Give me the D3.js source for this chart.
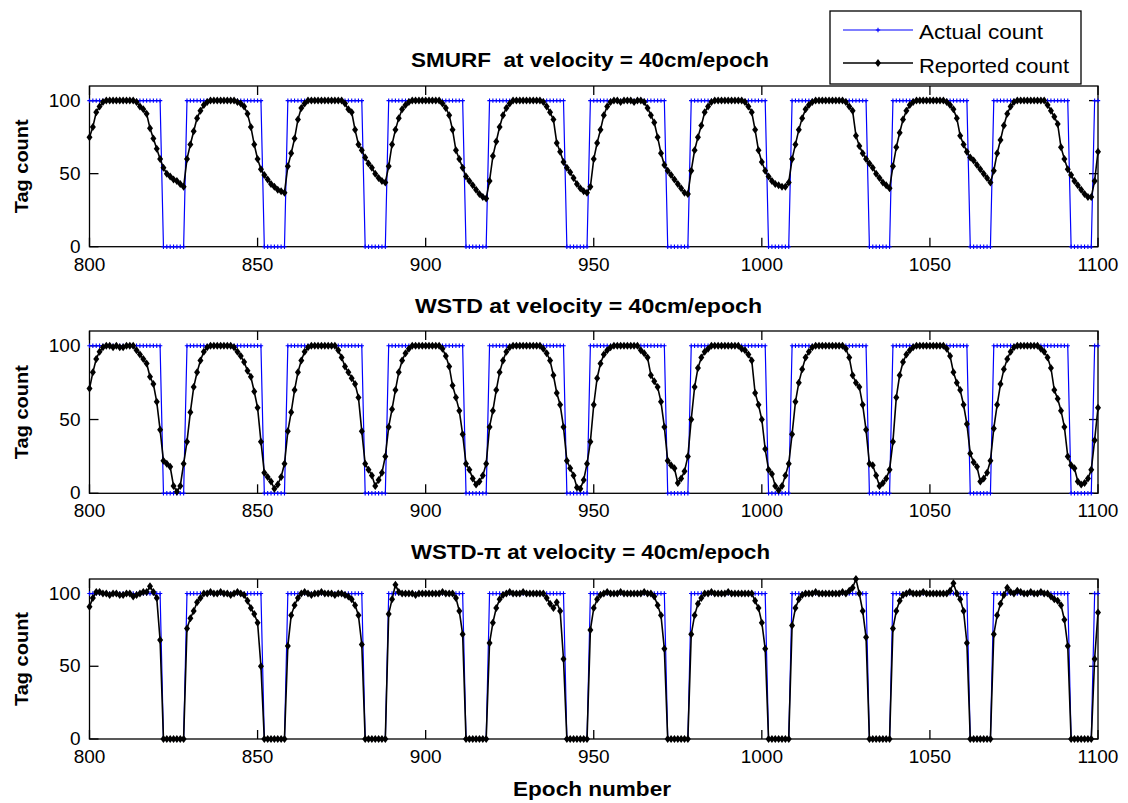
<!DOCTYPE html>
<html><head><meta charset="utf-8">
<script src="https://cdn.jsdelivr.net/npm/d3@7"></script>
<style>body{margin:0;background:#fff} text{font-family:"Liberation Sans",Arial,sans-serif;fill:#000}</style>
</head><body><svg id="c" width="1128" height="803"></svg>
<script>
const epochs = d3.range(800, 1101);
const actualCount = [
100,100,100,100,100,100,100,100,100,100,100,100,100,100,100,100,100,100,100,100,100,100,0,0,0,0,0,0,0,100,
100,100,100,100,100,100,100,100,100,100,100,100,100,100,100,100,100,100,100,100,100,100,0,0,0,0,0,0,0,100,
100,100,100,100,100,100,100,100,100,100,100,100,100,100,100,100,100,100,100,100,100,100,0,0,0,0,0,0,0,100,
100,100,100,100,100,100,100,100,100,100,100,100,100,100,100,100,100,100,100,100,100,100,0,0,0,0,0,0,0,100,
100,100,100,100,100,100,100,100,100,100,100,100,100,100,100,100,100,100,100,100,100,100,0,0,0,0,0,0,0,100,
100,100,100,100,100,100,100,100,100,100,100,100,100,100,100,100,100,100,100,100,100,100,0,0,0,0,0,0,0,100,
100,100,100,100,100,100,100,100,100,100,100,100,100,100,100,100,100,100,100,100,100,100,0,0,0,0,0,0,0,100,
100,100,100,100,100,100,100,100,100,100,100,100,100,100,100,100,100,100,100,100,100,100,0,0,0,0,0,0,0,100,
100,100,100,100,100,100,100,100,100,100,100,100,100,100,100,100,100,100,100,100,100,100,0,0,0,0,0,0,0,100,
100,100,100,100,100,100,100,100,100,100,100,100,100,100,100,100,100,100,100,100,100,100,0,0,0,0,0,0,0,100,
100];
const smurfReported = [
75,82,92,96,99,100,100,100,100,100,100,100,100,100,99,96,94,91,81,74,67,60,54,50,48,46,45,43,41,60,
70,79,88,93,97,99,100,100,100,100,100,100,100,100,99,98,96,91,82,70,60,53,49,46,43,41,39,38,37,55,
64,74,87,95,98,100,100,100,100,100,100,100,100,100,100,100,98,94,92,80,70,66,61,57,54,50,47,45,44,55,
70,80,88,94,97,99,100,100,100,100,100,100,100,100,100,98,95,90,80,66,60,54,48,45,42,39,36,34,33,45,
62,72,82,90,95,98,100,100,100,100,100,100,100,100,100,99,96,92,87,71,65,58,54,51,47,43,40,38,37,41,
60,71,80,90,96,99,100,100,99,100,100,100,99,100,100,99,95,90,85,75,64,56,52,49,46,43,40,37,36,52,
66,75,83,92,96,99,100,100,100,100,100,100,100,100,100,99,96,92,80,66,58,52,48,45,43,42,41,41,44,60,
70,80,88,94,97,99,100,100,100,100,100,100,100,100,100,99,96,93,76,69,64,60,57,54,50,47,44,42,40,55,
68,78,87,93,97,99,100,100,100,100,100,100,100,100,100,99,97,94,88,76,70,65,61,59,56,53,50,47,44,52,
64,73,83,91,96,99,100,100,100,100,100,100,100,100,100,97,93,89,84,68,60,53,49,45,42,39,36,34,34,45,
65];
const wstdReported = [
71,82,91,96,99,100,100,99,100,99,99,100,100,100,97,94,91,88,79,74,62,43,22,20,18,5,1,5,20,35,
55,72,82,90,96,99,100,100,100,100,100,100,100,99,96,93,89,83,79,69,58,35,14,11,8,3,6,11,20,42,
55,70,82,90,96,99,100,100,100,100,100,100,100,100,97,92,86,82,78,74,65,42,20,16,12,5,9,14,25,45,
57,70,82,90,95,98,100,100,100,100,100,100,100,100,100,98,93,86,73,65,56,40,20,16,10,6,8,12,20,45,
56,70,82,90,96,99,100,100,100,100,100,100,100,100,100,98,95,90,80,68,60,45,22,17,12,4,3,9,20,35,
60,78,88,94,97,99,100,100,100,100,100,100,100,100,97,95,92,80,76,72,62,45,22,19,17,7,10,15,25,50,
72,85,92,96,98,100,100,100,100,100,100,100,100,100,98,97,94,90,68,60,50,30,16,13,5,2,5,12,20,40,
62,75,84,92,96,99,100,100,100,100,100,100,100,100,100,98,92,80,75,72,60,43,20,19,12,5,7,10,16,35,
65,80,89,94,97,99,100,100,100,100,100,100,100,100,100,98,93,82,75,70,60,47,27,21,18,8,10,14,22,44,
60,74,84,91,96,99,100,100,100,100,100,100,100,98,96,92,85,70,64,56,45,25,19,17,8,6,7,10,16,36,
58];
const wstdPiReported = [
91,97,101,101,100,100,99,100,100,99,99,100,100,98,99,100,101,101,105,101,97,68,0,0,0,0,0,0,0,76,
83,88,94,97,100,100,101,100,100,101,100,100,99,100,101,100,99,95,90,86,80,50,0,0,0,0,0,0,0,64,
85,92,97,100,101,100,99,100,100,101,100,100,100,99,100,100,99,98,96,92,85,65,0,0,0,0,0,0,0,86,
96,106,101,100,100,100,100,99,100,100,100,100,100,100,100,101,100,100,100,97,88,72,0,0,0,0,0,0,0,66,
80,90,96,99,100,101,100,100,100,101,100,100,100,100,100,100,97,93,90,94,88,55,0,0,0,0,0,0,0,75,
90,96,99,100,101,100,100,100,101,100,100,100,100,100,100,101,100,100,98,92,85,62,0,0,0,0,0,0,0,72,
85,93,97,100,100,101,100,100,100,100,101,100,100,100,100,100,100,100,95,90,80,62,0,0,0,0,0,0,0,78,
90,96,99,100,100,100,101,100,100,100,100,100,100,100,101,100,102,104,110,100,88,70,0,0,0,0,0,0,0,76,
88,95,99,100,101,100,100,100,101,100,100,100,100,100,100,100,102,107,100,96,88,66,0,0,0,0,0,0,0,72,
85,93,99,104,101,100,102,101,100,100,101,100,100,101,100,100,98,96,95,92,82,64,0,0,0,0,0,0,0,55,
87];
const xTicks = [800, 850, 900, 950, 1000, 1050, 1100];
const yTicks = [0, 50, 100];
const panelTitles = ["SMURF  at velocity = 40cm/epoch", "WSTD at velocity = 40cm/epoch", "WSTD-\u03c0 at velocity = 40cm/epoch"];
const legendLabels = ["Actual count", "Reported count"];
const xLabel = "Epoch number";
const yLabel = "Tag count";

const svg = d3.select("#c");
const left = 89.5, right = 1098;
const layout = [
  {top: 86, bottom: 246.7, titleY: 67, titleX: 411, titleW: 358},
  {top: 331, bottom: 493.3, titleY: 313, titleX: 415, titleW: 347},
  {top: 579, bottom: 739, titleY: 559, titleX: 411, titleW: 359}
];
const series = [smurfReported, wstdReported, wstdPiReported];
const x = d3.scaleLinear().domain([800, 1100]).range([left, right]);

layout.forEach((L, i) => {
  const y = d3.scaleLinear().domain([0, 110]).range([L.bottom, L.top]);
  const g = svg.append("g");
  g.append("rect").attr("x", left).attr("y", L.top).attr("width", right - left).attr("height", L.bottom - L.top)
    .attr("fill", "#fff").attr("stroke", "#000").attr("stroke-width", 1.3);
  const tl = 9;
  xTicks.forEach(t => {
    g.append("line").attr("x1", x(t)).attr("x2", x(t)).attr("y1", L.bottom).attr("y2", L.bottom - tl).attr("stroke", "#000").attr("stroke-width", 1.3);
    g.append("line").attr("x1", x(t)).attr("x2", x(t)).attr("y1", L.top).attr("y2", L.top + tl).attr("stroke", "#000").attr("stroke-width", 1.3);
    g.append("text").attr("x", x(t)).attr("y", L.bottom + 24).attr("text-anchor", "middle").attr("font-size", 19).text(t);
  });
  yTicks.forEach(t => {
    g.append("line").attr("x1", left).attr("x2", left + tl).attr("y1", y(t)).attr("y2", y(t)).attr("stroke", "#000").attr("stroke-width", 1.3);
    g.append("line").attr("x1", right).attr("x2", right - tl).attr("y1", y(t)).attr("y2", y(t)).attr("stroke", "#000").attr("stroke-width", 1.3);
    g.append("text").attr("x", left - 9).attr("y", y(t) + 6).attr("text-anchor", "end").attr("font-size", 19).text(t);
  });
  const line = d3.line().x((d, j) => x(epochs[j])).y(d => y(d));
  g.append("path").datum(actualCount).attr("d", line).attr("fill", "none").attr("stroke", "#0000ff").attr("stroke-width", 1.2);
  g.append("path").attr("d", actualCount.map((d, j) => `M${x(epochs[j]) - 2.2},${y(d)}h4.4M${x(epochs[j])},${y(d) - 2.2}v4.4`).join(""))
    .attr("stroke", "#0000ff").attr("stroke-width", 1.1).attr("fill", "none");
  g.append("path").datum(series[i]).attr("d", line).attr("fill", "none").attr("stroke", "#000").attr("stroke-width", 1.6);
  g.selectAll(null).data(series[i]).enter().append("path")
    .attr("d", (d, j) => `M${x(epochs[j])},${y(d) - 4}l3,4l-3,4l-3,-4z`).attr("fill", "#000");
  g.append("text").attr("x", L.titleX).attr("y", L.titleY).attr("font-size", 21).attr("font-weight", "bold")
    .style("white-space", "pre").attr("textLength", L.titleW).attr("lengthAdjust", "spacingAndGlyphs").text(panelTitles[i]);
  const cy = (L.top + L.bottom) / 2;
  g.append("text").attr("transform", `translate(28,${cy}) rotate(-90)`).attr("text-anchor", "middle")
    .attr("font-size", 19).attr("font-weight", "bold").attr("textLength", 94).attr("lengthAdjust", "spacingAndGlyphs").text(yLabel);
});

svg.append("text").attr("x", 513).attr("y", 796).attr("font-size", 21).attr("font-weight", "bold")
  .attr("textLength", 158).attr("lengthAdjust", "spacingAndGlyphs").text(xLabel);

const lg = svg.append("g");
lg.append("rect").attr("x", 830).attr("y", 11).attr("width", 251).attr("height", 73).attr("fill", "#fff").attr("stroke", "#000").attr("stroke-width", 1.3);
lg.append("line").attr("x1", 843).attr("x2", 913).attr("y1", 30).attr("y2", 30).attr("stroke", "#0000ff").attr("stroke-width", 1.2);
lg.append("path").attr("d", "M875.8,30h4.4M878,27.8v4.4").attr("stroke", "#0000ff").attr("stroke-width", 1.1);
lg.append("line").attr("x1", 843).attr("x2", 913).attr("y1", 63).attr("y2", 63).attr("stroke", "#000").attr("stroke-width", 1.6);
lg.append("path").attr("d", "M878,59l3,4l-3,4l-3,-4z").attr("fill", "#000");
lg.append("text").attr("x", 919).attr("y", 39).attr("font-size", 21).attr("textLength", 124).attr("lengthAdjust", "spacingAndGlyphs").text(legendLabels[0]);
lg.append("text").attr("x", 919).attr("y", 73).attr("font-size", 21).attr("textLength", 150).attr("lengthAdjust", "spacingAndGlyphs").text(legendLabels[1]);
</script></body></html>
